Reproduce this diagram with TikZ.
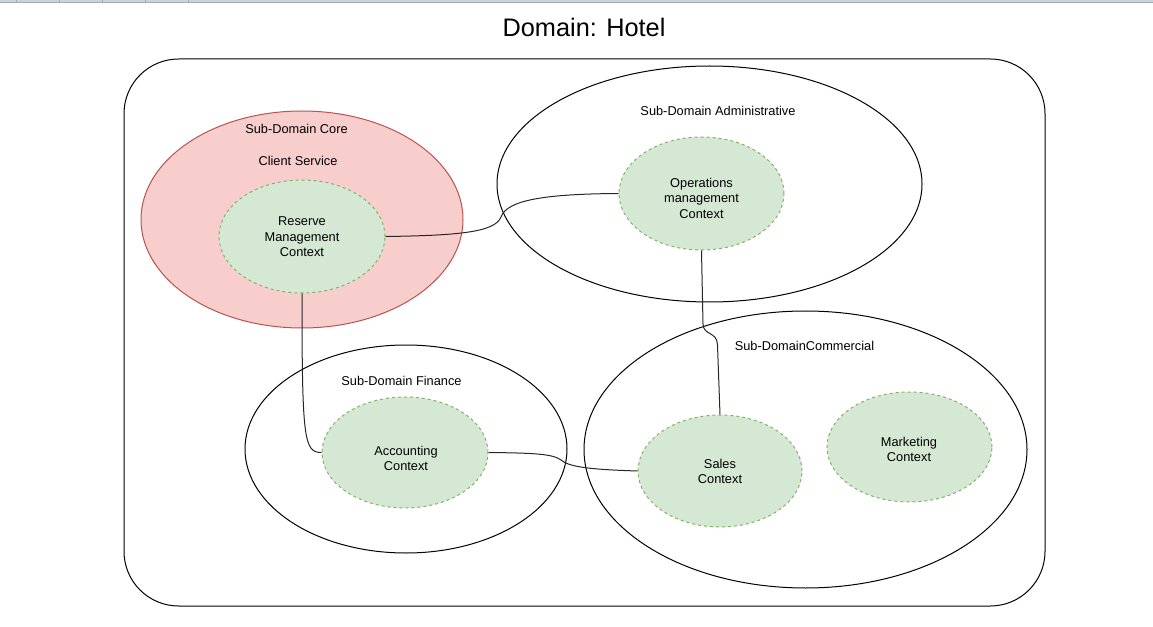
\documentclass[tikz,border=0pt]{standalone}
\usepackage{fontspec}
\setmainfont{Liberation Sans}
\usetikzlibrary{shapes.geometric}
\definecolor{corefill}{HTML}{F8CECC}
\definecolor{corestroke}{HTML}{B85450}
\definecolor{ctxfill}{HTML}{D5E8D4}
\definecolor{ctxstroke}{HTML}{82B366}
\definecolor{barfill}{HTML}{CDD3D9}
\definecolor{barline}{HTML}{A3ACB5}
\tikzset{
  subdomain/.style={ellipse, draw=black, line width=0.75pt, inner sep=0pt},
  coredomain/.style={ellipse, draw=corestroke, fill=corefill, line width=0.75pt, inner sep=0pt},
  context/.style={ellipse, draw=ctxstroke, fill=ctxfill, line width=0.75pt, dash pattern=on 2.25pt off 2.25pt, inner sep=0pt},
  lbl/.style={font=\fontsize{9.6pt}{11.6pt}\selectfont, align=center, inner sep=0pt, text=black},
  link/.style={draw=black!85, line width=0.75pt},
}
\begin{document}
\begin{tikzpicture}[x=0.75pt,y=-0.75pt]
\useasboundingbox (0,0) rectangle (1153,627);
% browser bar
\fill[barfill] (0,0) rectangle (1153,2.2);
\draw[barline, line width=0.6pt] (0,2.4) -- (1153,2.4);
\foreach \xx in {16.5,59.5,102.5,145.5,188.5} \draw[barline, line width=0.5pt] (\xx,0) -- (\xx,2.2);
% title
\node[font=\fontsize{19pt}{22pt}\selectfont, anchor=base, inner sep=0pt] (title) at (584,36.7) {Domain: Hotel};
% outer domain
\draw[line width=0.75pt, rounded corners=41pt] (124,59) rectangle (1045,606);
\coordinate (outer) at (584.5,332.5);
% sub-domains
\node[coredomain, minimum width=241.5pt, minimum height=162.75pt] (core) at (302,219.5) {};
\node[subdomain, minimum width=318.75pt, minimum height=177pt] (admin) at (709.5,184) {};
\node[subdomain, minimum width=332.25pt, minimum height=207.75pt] (commercial) at (805.5,449.5) {};
\node[subdomain, minimum width=241.5pt, minimum height=156pt] (finance) at (406,449) {};
% sub-domain labels
\node[lbl] (coreL) at (296.5,129) {Sub-Domain Core};
\node[lbl] (clientL) at (298,161) {Client Service};
\node[lbl] (adminL) at (718,111) {Sub-Domain Administrative};
\node[lbl] (commercialL) at (804.5,346) {Sub-DomainCommercial};
\node[lbl] (financeL) at (401.5,381) {Sub-Domain Finance};
% contexts
\node[context, minimum width=124.5pt, minimum height=84.75pt] (reserve) at (302,236.5) {};
\node[context, minimum width=123.75pt, minimum height=84.75pt] (operations) at (701.5,193.5) {};
\node[context, minimum width=124.5pt, minimum height=83.25pt] (accounting) at (405,452.5) {};
\node[context, minimum width=123pt, minimum height=84pt] (sales) at (720,471) {};
\node[context, minimum width=123.75pt, minimum height=82.5pt] (marketing) at (909.5,447) {};
% connectors
\draw[link] (reserve.east) .. controls (460,235.5) and (495,232) .. (501,217) .. controls (507,200) and (545,194) .. (operations.west);
\draw[link] (reserve.south) .. controls (302,440) and (304,452.5) .. (accounting.west);
\draw[link] (operations.south) -- (703,324) .. controls (703.5,336) and (717,331) .. (717.5,345) -- (sales.north);
\draw[link] (accounting.east) .. controls (535,453) and (553,454) .. (561,460) .. controls (569,467) and (590,469.5) .. (sales.west);
% context labels
\node[lbl] (reserveT) at (302,237) {Reserve\\Management\\Context};
\node[lbl] (operationsT) at (701.5,198) {Operations\\management\\Context};
\node[lbl] (accountingT) at (406,458.5) {Accounting\\Context};
\node[lbl] (salesT) at (720,471.5) {Sales\\Context};
\node[lbl] (marketingT) at (909,449.5) {Marketing\\Context};
\end{tikzpicture}
\end{document}
